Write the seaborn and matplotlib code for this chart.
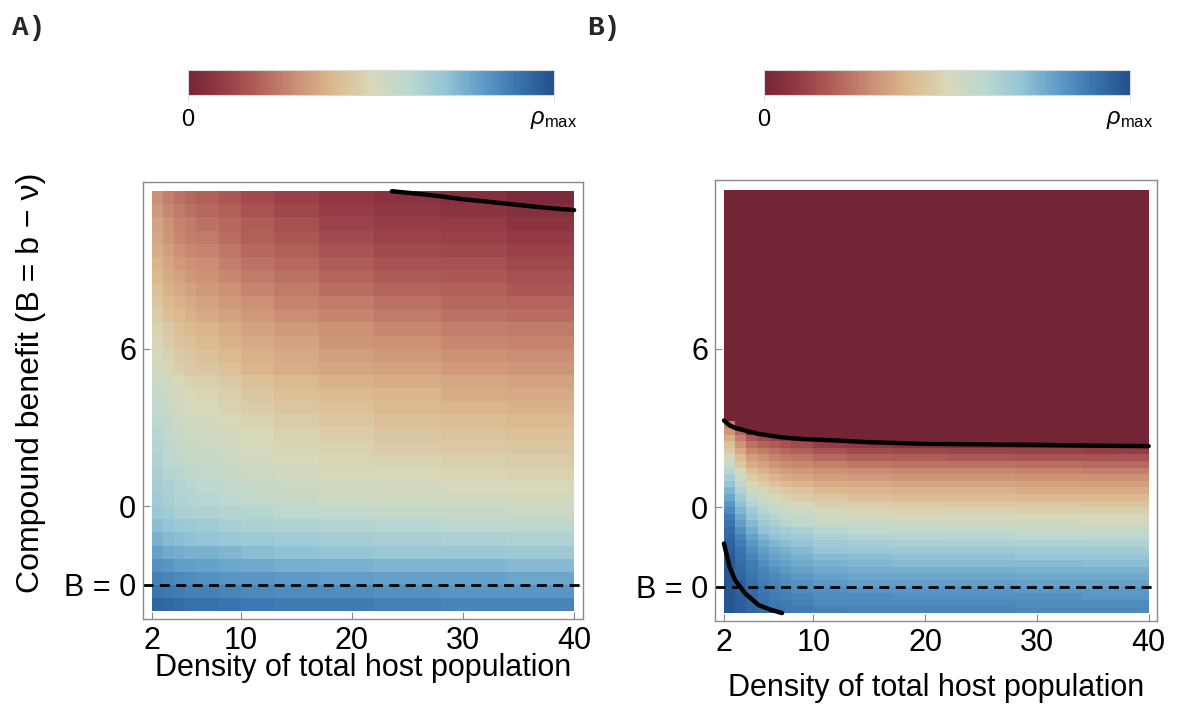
import numpy as np
import matplotlib
matplotlib.use("Agg")
import matplotlib.pyplot as plt
import seaborn as sns
from matplotlib.colors import LinearSegmentedColormap, Normalize
from matplotlib.cm import ScalarMappable

# ---------------- data ----------------
N_MIN, N_MAX = 2, 40
B_MIN, B_MAX = -4, 12
x_ticks = [2, 10, 20, 30, 40]
y_ticks = [6, 0, -3]
y_tick_labels = ["6", "0", "B = 0"]
cbar_labels = ["0", r"$\rho_{\mathrm{max}}$"]

# colour scale, 0 -> rho = 0 (dark red), 1 -> rho_max (dark blue)
cmap_colors = ["#742535", "#963c46", "#b4645c", "#cd9276", "#dcba90", "#d8d8b8",
               "#bcd8d0", "#96c6d6", "#629ec8", "#3a74b0", "#22508c"]

# panel A: column groups start at these N, rows are 0.5 wide starting at these B tops
a_col_start = [2, 3, 4, 5, 6, 8, 10, 13, 17, 22, 28, 34]
a_row_top = np.arange(12, -4, -0.5)
# rho / rho_max in percent, one row per B band (top to bottom)
rho_a = [
    [30, 26, 23, 21, 19, 17, 14, 11, 8, 6, 5, 3],
    [32, 28, 25, 23, 21, 19, 16, 13, 10, 8, 7, 5],
    [34, 30, 27, 25, 23, 21, 18, 15, 12, 10, 9, 7],
    [35, 31, 28, 26, 25, 22, 19, 17, 14, 12, 11, 9],
    [37, 33, 30, 28, 27, 24, 21, 19, 16, 14, 13, 11],
    [39, 35, 32, 30, 29, 26, 23, 21, 18, 16, 15, 13],
    [40, 36, 34, 32, 30, 28, 25, 23, 20, 18, 17, 15],
    [42, 38, 36, 34, 32, 30, 27, 25, 22, 20, 19, 17],
    [44, 40, 38, 36, 34, 32, 30, 27, 25, 23, 21, 20],
    [46, 42, 40, 38, 36, 34, 32, 29, 27, 25, 23, 22],
    [48, 45, 42, 40, 39, 37, 34, 32, 30, 28, 26, 25],
    [49, 46, 43, 42, 40, 38, 36, 34, 31, 30, 28, 27],
    [51, 48, 45, 44, 42, 40, 38, 36, 33, 32, 30, 29],
    [52, 49, 47, 45, 44, 42, 39, 37, 35, 34, 32, 31],
    [55, 52, 50, 48, 47, 45, 42, 40, 38, 37, 35, 34],
    [57, 54, 52, 50, 49, 47, 44, 42, 40, 39, 37, 36],
    [58, 55, 53, 51, 50, 48, 46, 44, 42, 40, 39, 38],
    [60, 57, 55, 53, 52, 50, 48, 46, 44, 42, 41, 40],
    [61, 58, 56, 55, 53, 52, 50, 48, 46, 44, 43, 42],
    [62, 59, 57, 56, 55, 53, 51, 49, 48, 46, 45, 44],
    [63, 60, 59, 57, 56, 55, 53, 51, 49, 48, 47, 46],
    [65, 62, 61, 59, 58, 57, 55, 53, 51, 50, 49, 48],
    [66, 64, 62, 61, 60, 58, 56, 55, 53, 52, 51, 50],
    [67, 65, 63, 62, 61, 60, 58, 57, 55, 54, 53, 52],
    [69, 67, 65, 64, 63, 62, 61, 59, 58, 57, 56, 55],
    [72, 70, 69, 68, 67, 65, 64, 63, 62, 61, 60, 59],
    [75, 73, 72, 71, 70, 69, 68, 67, 66, 65, 64, 63],
    [79, 77, 76, 75, 75, 74, 72, 71, 70, 69, 69, 68],
    [83, 82, 80, 80, 79, 78, 77, 76, 75, 74, 74, 73],
    [87, 86, 85, 84, 83, 82, 82, 81, 80, 79, 79, 78],
    [90, 89, 88, 87, 87, 86, 85, 84, 84, 83, 82, 82],
    [94, 93, 92, 91, 91, 90, 89, 88, 88, 87, 86, 86],
]

# panel B: first row band is the flat rho = 0 region from B = 12 down to 3.5,
# then 0.25 wide bands; each list below is one column group (top to bottom)
b_col_start = [2, 3, 4, 5, 6, 7, 8, 10, 13, 17, 22, 28, 34]
b_row_top = np.concatenate([[12], np.arange(3.5, -4, -0.25)])
rho_b_n2 = [0, 25, 31, 37, 42, 46, 51, 56, 61, 66, 70, 74, 78, 82, 85, 88, 90, 92, 94, 95,
            96, 97, 97, 98, 98, 98, 98, 98, 98, 98]
rho_b_n3 = [0, 0, 20, 26, 31, 36, 41, 45, 50, 54, 59, 63, 67, 71, 74, 77, 80, 83, 86, 88,
            90, 91, 92, 93, 94, 95, 95, 96, 96, 96]
rho_b_n4 = [0, 0, 0, 17, 23, 28, 33, 37, 42, 46, 51, 55, 59, 63, 67, 70, 73, 76, 79, 82,
            84, 86, 88, 89, 90, 91, 92, 93, 93, 94]
rho_b_n5 = [0, 0, 0, 14, 20, 25, 30, 34, 38, 42, 46, 50, 54, 58, 62, 65, 68, 71, 74, 77,
            80, 82, 84, 86, 87, 88, 89, 90, 91, 92]
rho_b_n6 = [0, 0, 0, 12, 18, 23, 27, 31, 35, 39, 43, 47, 51, 55, 58, 62, 65, 68, 71, 74,
            77, 79, 81, 83, 85, 86, 87, 88, 89, 90]
rho_b_n7 = [0, 0, 0, 10, 16, 21, 25, 29, 33, 37, 41, 45, 48, 52, 56, 59, 62, 66, 69, 72,
            75, 77, 79, 81, 83, 84, 86, 87, 88, 89]
rho_b_n8 = [0, 0, 0, 0, 14, 19, 24, 28, 32, 35, 39, 43, 46, 50, 54, 57, 60, 64, 67, 70,
            73, 75, 77, 79, 81, 83, 84, 86, 87, 88]
rho_b_n10 = [0, 0, 0, 0, 10, 16, 21, 26, 30, 33, 37, 40, 44, 47, 51, 54, 57, 61, 64, 67,
             70, 73, 75, 77, 79, 81, 83, 84, 85, 87]
rho_b_n13 = [0, 0, 0, 0, 8, 14, 19, 24, 29, 32, 36, 39, 42, 46, 49, 52, 56, 59, 62, 66,
             69, 72, 74, 76, 78, 80, 82, 84, 85, 86]
rho_b_n17 = [0, 0, 0, 0, 6, 13, 18, 23, 28, 31, 35, 38, 41, 45, 48, 51, 55, 58, 61, 65,
             68, 71, 73, 76, 78, 80, 82, 83, 85, 86]
rho_b_n22 = [0, 0, 0, 0, 4, 12, 17, 23, 28, 31, 35, 38, 41, 44, 48, 51, 54, 58, 61, 64,
             68, 71, 73, 76, 78, 80, 82, 83, 85, 86]
rho_b_n28 = [0, 0, 0, 0, 0, 11, 16, 22, 27, 30, 34, 37, 40, 44, 47, 50, 54, 57, 60, 64,
             67, 70, 73, 75, 77, 79, 81, 83, 84, 85]
rho_b_n34 = [0, 0, 0, 0, 0, 10, 16, 21, 26, 30, 33, 37, 40, 43, 47, 50, 53, 57, 60, 63,
             67, 70, 72, 75, 77, 79, 81, 82, 84, 85]

# black boundary curves
curve_a_n = [23.6, 26, 27.9, 29.9, 32, 34, 36, 38, 40]
curve_a_b = [12.0, 11.9, 11.81, 11.7, 11.61, 11.52, 11.43, 11.35, 11.28]
curve_b_top_n = [2, 2.5, 3, 3.9, 5, 7.1, 9, 11.8, 15, 19.8, 25, 30, 35, 40]
curve_b_top_b = [3.28, 3.1, 3.0, 2.9, 2.78, 2.65, 2.58, 2.53, 2.46, 2.40, 2.38, 2.36, 2.33, 2.31]
curve_b_low_n = [2.0, 2.5, 3.0, 3.9, 5.1, 6.2, 7.2]
curve_b_low_b = [-1.37, -2.26, -2.76, -3.26, -3.7, -3.88, -4.0]
dash_b = -3

# ---------------- plotting ----------------
sns.set_theme(style="white")
plt.rcParams['font.family'] = ['Liberation Sans', 'DejaVu Sans']
plt.rcParams['font.monospace'] = ['Liberation Mono', 'Nimbus Mono PS', 'FreeMono',
                                  'Courier New', 'DejaVu Sans Mono']
plt.rcParams['mathtext.fontset'] = 'custom'
plt.rcParams['mathtext.it'] = 'Liberation Sans:italic'
plt.rcParams['mathtext.rm'] = 'Liberation Sans'

cmap = LinearSegmentedColormap.from_list("redbluetones", cmap_colors)
STEP = 0.25  # fine row height in B units


def fine_grid(values, row_top, col_start):
    row_rep = np.rint(-np.diff(np.append(row_top, B_MIN)) / STEP).astype(int)
    col_rep = np.diff(np.append(col_start, N_MAX)).astype(int)
    g = np.repeat(np.asarray(values, float) / 100, row_rep, axis=0)
    return np.repeat(g, col_rep, axis=1)


def nx(n):
    return np.asarray(n, float) - N_MIN


def by(b):
    return (B_MAX - np.asarray(b, float)) / STEP


grid_a = fine_grid(rho_a, a_row_top, a_col_start)
b_cols = [rho_b_n2, rho_b_n3, rho_b_n4, rho_b_n5, rho_b_n6, rho_b_n7, rho_b_n8,
          rho_b_n10, rho_b_n13, rho_b_n17, rho_b_n22, rho_b_n28, rho_b_n34]
rho_b = np.vstack([np.zeros(len(b_cols)), np.array(b_cols).T])
grid_b = fine_grid(rho_b, b_row_top, b_col_start)

fig = plt.figure(figsize=(11.78, 7.08), dpi=100)
ax_a = fig.add_axes([0.1214, 0.1257, 0.3735, 0.6172])
ax_b = fig.add_axes([0.6070, 0.1229, 0.3752, 0.6229])

frame = "#8a8a8a"
for ax, grid in [(ax_a, grid_a), (ax_b, grid_b)]:
    sns.heatmap(grid, ax=ax, cmap=cmap, vmin=0, vmax=1, cbar=False,
                xticklabels=False, yticklabels=False)
    ax.axhline(by(dash_b), color="black", lw=2, ls=(0, (3.6, 2.3)))
    ax.set_xticks(nx(x_ticks))
    ax.set_xticklabels([str(v) for v in x_ticks])
    ax.set_yticks(by(y_ticks))
    ax.set_yticklabels(y_tick_labels)
    ax.tick_params(bottom=True, left=True, direction="in", length=5, width=0.8,
                   color=frame, labelsize=22, pad=5, labelcolor="black")
    for s in ax.spines.values():
        s.set_visible(True)
        s.set_color(frame)
        s.set_linewidth(1)
    ax.set_facecolor("white")

sns.lineplot(x=nx(curve_a_n), y=by(curve_a_b), ax=ax_a, color="black", lw=3.2,
             sort=False, estimator=None)
sns.lineplot(x=nx(curve_b_top_n), y=by(curve_b_top_b), ax=ax_b, color="black", lw=3.2,
             sort=False, estimator=None)
sns.lineplot(x=nx(curve_b_low_n), y=by(curve_b_low_b), ax=ax_b, color="black", lw=3.2,
             sort=False, estimator=None)

ax_a.set_xlim(-0.8, 38.8)
ax_a.set_ylim(65.2, -1.4)
ax_b.set_xlim(-0.8, 38.75)
ax_b.set_ylim(65.2, -1.5)

ax_a.set_xlabel("Density of total host population", fontsize=22, labelpad=-2,
                color="black")
ax_b.set_xlabel("Density of total host population", fontsize=22, labelpad=11,
                color="black")
ax_a.set_ylabel("Compound benefit (B = b \u2212 \u03bd)", fontsize=23, color="black")
ax_a.yaxis.set_label_coords(-0.22, 0.54)

# colour bars on top
for left in [0.1596, 0.6486]:
    cax = fig.add_axes([left, 0.8658, 0.3107, 0.0353])
    cb = fig.colorbar(ScalarMappable(norm=Normalize(0, 1), cmap=cmap), cax=cax,
                      orientation="horizontal", ticks=[0, 1])
    cb.set_ticklabels(cbar_labels)
    cb.outline.set_edgecolor("#d8d8d8")
    cb.outline.set_linewidth(0.8)
    cax.tick_params(length=5, width=0.6, color="#d8d8d8", labelsize=17, pad=5,
                    labelcolor="black")

fig.text(12 / 1178, 1 - 28 / 708, "A)", family="monospace", fontweight="bold",
         fontsize=20, va="center")
fig.text(587 / 1178, 1 - 28 / 708, "B)", family="monospace", fontweight="bold",
         fontsize=20, va="center")

fig.savefig("out.png", dpi=100)
